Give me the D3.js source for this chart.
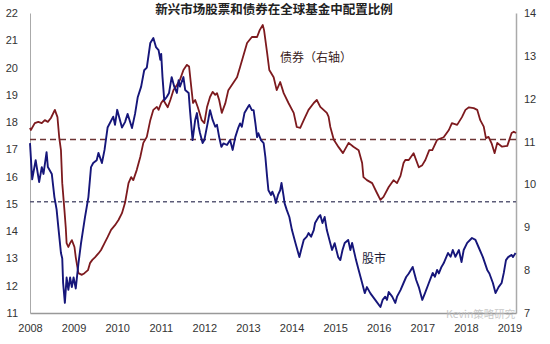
<!DOCTYPE html>
<html>
<head>
<meta charset="utf-8">
<script src="https://cdn.jsdelivr.net/npm/d3@7"></script>
<style>
  html, body { margin: 0; padding: 0; background: #fff; }
  .axis text { font-family: "Liberation Sans", Arial, sans-serif; font-size: 11px; fill: #333; }
  .cjk { font-family: "Noto Sans CJK SC", sans-serif; }
</style>
</head>
<body>
<script>
// Emerging-market equity (left axis) and bond (right axis) allocation in global funds, %
const equity = [
  [2008.00,17.23],[2008.05,15.90],[2008.13,16.60],[2008.21,15.80],[2008.27,16.35],[2008.31,16.10],
  [2008.38,16.90],[2008.41,16.35],[2008.50,16.10],[2008.56,15.25],[2008.61,14.80],[2008.65,14.15],
  [2008.71,13.20],[2008.74,13.00],[2008.76,12.10],[2008.80,11.37],[2008.84,12.30],[2008.88,11.85],
  [2008.92,12.30],[2008.96,11.95],[2009.00,12.30],[2009.05,11.90],[2009.11,12.80],[2009.17,13.55],
  [2009.26,14.50],[2009.34,15.25],[2009.40,16.35],[2009.45,16.50],[2009.53,16.60],[2009.57,16.87],
  [2009.65,16.50],[2009.71,16.98],[2009.78,17.80],[2009.91,18.20],[2009.95,17.90],[2010.00,18.45],
  [2010.11,17.80],[2010.18,18.00],[2010.24,18.30],[2010.34,17.78],[2010.41,18.30],[2010.47,18.90],
  [2010.55,19.30],[2010.62,19.90],[2010.68,20.00],[2010.76,20.90],[2010.83,21.08],[2010.89,20.75],
  [2010.95,20.64],[2010.99,20.28],[2011.01,20.50],[2011.04,19.65],[2011.08,18.80],[2011.14,18.93],
  [2011.19,19.07],[2011.25,19.65],[2011.31,19.30],[2011.37,19.07],[2011.41,19.54],[2011.44,19.30],
  [2011.52,19.65],[2011.56,19.18],[2011.64,19.07],[2011.67,18.44],[2011.73,17.34],[2011.79,18.08],
  [2011.83,18.33],[2011.87,17.83],[2011.90,17.60],[2011.96,17.23],[2012.00,17.34],[2012.09,18.08],
  [2012.13,18.44],[2012.19,18.08],[2012.25,17.83],[2012.29,17.90],[2012.34,17.45],[2012.39,17.09],
  [2012.44,17.22],[2012.52,17.16],[2012.59,17.34],[2012.65,16.98],[2012.71,17.45],[2012.78,17.80],
  [2012.82,17.95],[2012.86,17.83],[2012.92,18.33],[2013.00,18.55],[2013.03,18.63],[2013.09,18.44],
  [2013.13,18.44],[2013.17,17.97],[2013.21,17.45],[2013.24,17.59],[2013.30,17.34],[2013.36,17.23],
  [2013.40,16.72],[2013.44,15.99],[2013.47,15.50],[2013.53,15.33],[2013.56,15.45],[2013.61,15.25],
  [2013.64,15.03],[2013.69,15.33],[2013.74,15.50],[2013.77,15.77],[2013.82,15.27],[2013.84,15.03],
  [2013.89,14.78],[2013.95,14.52],[2014.01,14.04],[2014.09,13.57],[2014.18,13.05],[2014.22,13.31],
  [2014.28,13.68],[2014.35,13.80],[2014.39,13.93],[2014.45,13.80],[2014.51,14.04],[2014.54,14.30],
  [2014.62,14.52],[2014.66,14.59],[2014.71,14.30],[2014.76,14.52],[2014.81,14.04],[2014.87,13.68],
  [2014.93,13.31],[2014.99,13.56],[2015.07,13.05],[2015.12,12.94],[2015.17,13.31],[2015.22,13.57],
  [2015.30,13.68],[2015.35,13.31],[2015.39,13.57],[2015.48,12.94],[2015.54,12.58],[2015.62,12.10],
  [2015.68,11.73],[2015.73,11.95],[2015.81,11.72],[2015.92,11.48],[2016.04,11.22],[2016.09,11.48],
  [2016.15,11.60],[2016.19,11.48],[2016.23,11.77],[2016.31,11.60],[2016.38,11.37],[2016.42,11.60],
  [2016.50,11.84],[2016.57,12.10],[2016.63,12.32],[2016.69,12.45],[2016.78,12.69],[2016.86,12.21],
  [2016.92,11.95],[2017.00,11.48],[2017.06,11.72],[2017.15,12.10],[2017.24,12.47],[2017.29,12.33],
  [2017.34,12.58],[2017.38,12.45],[2017.44,12.69],[2017.49,12.82],[2017.59,13.20],[2017.65,13.06],
  [2017.70,13.31],[2017.76,13.06],[2017.84,13.31],[2017.90,12.87],[2017.95,13.31],[2018.03,13.57],
  [2018.14,13.75],[2018.22,13.68],[2018.29,13.42],[2018.39,13.05],[2018.49,12.58],[2018.54,12.45],
  [2018.62,12.10],[2018.68,11.73],[2018.75,11.95],[2018.82,12.10],[2018.87,12.47],[2018.92,12.94],
  [2018.97,13.05],[2019.05,13.13],[2019.08,13.05],[2019.14,13.20]
];

const bonds = [
  [2008.00,11.32],[2008.02,11.27],[2008.11,11.43],[2008.19,11.46],[2008.27,11.43],[2008.34,11.50],
  [2008.41,11.46],[2008.48,11.55],[2008.57,11.74],[2008.63,11.57],[2008.67,11.10],[2008.71,10.80],
  [2008.74,10.03],[2008.79,9.40],[2008.82,9.00],[2008.84,8.63],[2008.88,8.54],[2008.92,8.63],
  [2008.96,8.70],[2009.02,8.54],[2009.05,8.30],[2009.11,7.93],[2009.19,7.89],[2009.25,7.93],
  [2009.33,8.00],[2009.38,8.17],[2009.43,8.24],[2009.49,8.30],[2009.57,8.39],[2009.63,8.47],
  [2009.71,8.63],[2009.78,8.77],[2009.86,8.94],[2009.95,9.05],[2010.03,9.17],[2010.11,9.33],
  [2010.18,9.57],[2010.26,10.03],[2010.32,10.17],[2010.37,10.10],[2010.45,10.34],[2010.53,10.64],
  [2010.60,10.97],[2010.68,11.11],[2010.76,11.50],[2010.83,11.74],[2010.91,11.81],[2010.95,11.74],
  [2011.01,11.90],[2011.06,11.97],[2011.10,11.90],[2011.16,11.80],[2011.22,11.97],[2011.29,12.20],
  [2011.37,12.32],[2011.44,12.44],[2011.52,12.67],[2011.60,12.79],[2011.65,12.75],[2011.70,12.27],
  [2011.74,11.90],[2011.79,11.97],[2011.85,11.80],[2011.94,11.50],[2012.00,11.43],[2012.06,11.80],
  [2012.13,12.04],[2012.19,12.16],[2012.25,12.09],[2012.29,12.13],[2012.34,11.97],[2012.40,11.67],
  [2012.48,11.89],[2012.55,12.20],[2012.75,12.50],[2012.82,12.74],[2012.98,13.30],[2013.09,13.44],
  [2013.21,13.44],[2013.27,13.60],[2013.34,13.72],[2013.37,13.60],[2013.44,13.07],[2013.49,12.67],
  [2013.59,12.50],[2013.66,12.20],[2013.74,12.39],[2013.82,12.13],[2013.93,11.90],[2014.05,11.67],
  [2014.12,11.34],[2014.20,11.32],[2014.28,11.50],[2014.39,11.74],[2014.51,11.90],[2014.58,11.97],
  [2014.66,11.81],[2014.81,11.67],[2014.85,11.58],[2014.89,11.34],[2014.97,11.04],[2015.08,10.87],
  [2015.18,10.73],[2015.31,10.97],[2015.42,10.88],[2015.54,10.80],[2015.62,10.50],[2015.65,10.17],
  [2015.73,10.10],[2015.85,10.03],[2015.96,9.80],[2016.04,9.64],[2016.11,9.71],[2016.23,9.94],
  [2016.34,10.10],[2016.42,10.03],[2016.50,10.20],[2016.57,10.50],[2016.61,10.57],[2016.69,10.57],
  [2016.80,10.73],[2016.92,10.40],[2017.00,10.45],[2017.07,10.57],[2017.16,10.80],[2017.23,10.80],
  [2017.34,11.04],[2017.49,11.10],[2017.61,11.27],[2017.68,11.43],[2017.80,11.39],[2017.91,11.57],
  [2017.99,11.74],[2018.07,11.80],[2018.18,11.78],[2018.26,11.74],[2018.33,11.50],[2018.41,11.35],
  [2018.46,11.08],[2018.52,11.11],[2018.59,10.96],[2018.66,10.73],[2018.72,10.97],[2018.83,10.88],
  [2018.95,10.90],[2019.05,11.20],[2019.10,11.23],[2019.15,11.20]
];

const years = d3.range(2008, 2020);
const leftTicks = d3.range(11, 23);
const rightTicks = d3.range(7, 15);
const equityAvg = 15.08;  // left axis
const bondAvg = 11.05;    // right axis

const width = 550, height = 344;
const margin = { top: 13, right: 34, bottom: 31, left: 30 };

const x = d3.scaleLinear().domain([2008, 2019.15]).range([margin.left, width - margin.right]);
const yL = d3.scaleLinear().domain([11, 22]).range([height - margin.bottom, margin.top]);
const yR = d3.scaleLinear().domain([7, 14]).range([height - margin.bottom, margin.top]);

const svg = d3.create("svg")
  .attr("width", width).attr("height", height)
  .attr("viewBox", `0 0 ${width} ${height}`);

svg.append("rect").attr("width", width).attr("height", height).attr("fill", "#fff");

// axes
const axL = svg.append("g").attr("class", "axis")
  .attr("transform", `translate(${margin.left},0)`)
  .call(d3.axisLeft(yL).tickValues(leftTicks).tickFormat(d3.format("d")).tickSize(0).tickPadding(12));
const axR = svg.append("g").attr("class", "axis")
  .attr("transform", `translate(${width - margin.right},0)`)
  .call(d3.axisRight(yR).tickValues(rightTicks).tickFormat(d3.format("d")).tickSize(0).tickPadding(8));
const axB = svg.append("g").attr("class", "axis")
  .attr("transform", `translate(0,${height - margin.bottom})`)
  .call(d3.axisBottom(x).tickValues(years).tickFormat(d3.format("d")).tickSize(0).tickPadding(11));

axL.select(".domain").attr("stroke", "#aaa").attr("stroke-width", 1);
axR.select(".domain").attr("stroke", "#aaa").attr("stroke-width", 1.5);
axB.select(".domain").attr("stroke", "#999").attr("stroke-width", 1.5);

// average lines
svg.append("line")
  .attr("x1", x(2008)).attr("x2", x(2019.15))
  .attr("y1", yR(bondAvg)).attr("y2", yR(bondAvg))
  .attr("stroke", "#6e3434").attr("stroke-width", 1.6)
  .attr("stroke-dasharray", "6,4");
svg.append("line")
  .attr("x1", x(2008)).attr("x2", x(2019.15))
  .attr("y1", yL(equityAvg)).attr("y2", yL(equityAvg))
  .attr("stroke", "#5c5c78").attr("stroke-width", 1.4)
  .attr("stroke-dasharray", "4,3");

// series
const lineL = d3.line().x((d) => x(d[0])).y((d) => yL(d[1]));
const lineR = d3.line().x((d) => x(d[0])).y((d) => yR(d[1]));

svg.append("path").datum(bonds)
  .attr("d", lineR)
  .attr("fill", "none").attr("stroke", "#7d1a1e").attr("stroke-width", 1.8)
  .attr("stroke-linejoin", "round");
svg.append("path").datum(equity)
  .attr("d", lineL)
  .attr("fill", "none").attr("stroke", "#16167a").attr("stroke-width", 1.9)
  .attr("stroke-linejoin", "round");

// title and labels
svg.append("text").attr("class", "cjk")
  .attr("x", 274).attr("y", 14)
  .attr("text-anchor", "middle")
  .style("font-size", "12.5px").style("font-weight", "bold").attr("fill", "#222")
  .text("新兴市场股票和债券在全球基金中配置比例");

svg.append("text").attr("class", "cjk")
  .attr("x", 280).attr("y", 62)
  .style("font-size", "12px").attr("fill", "#3a1c1c")
  .text("债券（右轴）");

svg.append("text").attr("class", "cjk")
  .attr("x", 362).attr("y", 263)
  .style("font-size", "12px").attr("fill", "#1c1c3a")
  .text("股市");

// watermark (kept just above the year labels)
svg.append("text").attr("class", "cjk")
  .attr("x", 446).attr("y", 318)
  .style("font-size", "10.5px").attr("fill", "#bbb").attr("opacity", 0.8)
  .text("Kevin策略研究");

document.body.appendChild(svg.node());
</script>
</body>
</html>
